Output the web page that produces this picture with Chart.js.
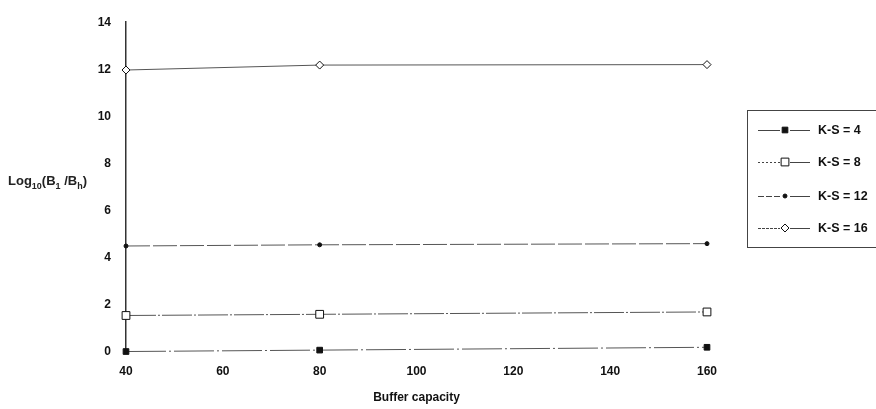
<!DOCTYPE html>
<html>
<head>
<meta charset="utf-8">
<script src="https://cdn.jsdelivr.net/npm/chart.js@4/dist/chart.umd.min.js"></script>
<style>
    html, body { margin: 0; padding: 0; background: #fff; }
    #wrap { position: relative; width: 876px; height: 409px; }
    #ytitle {
        position: absolute; left: 8px; top: 173px;
        font: bold 13px "Liberation Sans", Arial, sans-serif; color: #222;
        white-space: nowrap;
    }
    #ytitle sub { font-size: 9px; vertical-align: -4px; }
</style>
</head>
<body>
<div id="wrap">
    <canvas id="chart" width="876" height="409"></canvas>
    <div id="ytitle">Log<sub>10</sub>(B<sub>1</sub> /B<sub>h</sub>)</div>
</div>
<script>
const bufferCapacity = [40, 80, 160];
const seriesNames = ['K-S = 4', 'K-S = 8', 'K-S = 12', 'K-S = 16'];
const ks4 = [0.02, 0.08, 0.2];
const ks8 = [1.55, 1.6, 1.7];
const ks12 = [4.5, 4.55, 4.6];
const ks16 = [11.97, 12.18, 12.2];
const yTicks = [0, 2, 4, 6, 8, 10, 12, 14];
const xTicks = [40, 60, 80, 100, 120, 140, 160];

const FONT = '"Liberation Sans", Arial, sans-serif';

function pts(vals) {
    return vals.map((v, i) => ({ x: bufferCapacity[i], y: v }));
}

const styles = [
    { pointStyle: 'rect', radius: 4, bg: '#111', dash: [40, 3, 2, 3] },
    { pointStyle: 'rect', radius: 5.5, bg: '#fff', dash: [30, 2, 2, 2] },
    { pointStyle: 'circle', radius: 2, bg: '#111', dash: [24, 3] },
    { pointStyle: 'rectRot', radius: 4, bg: '#fff', dash: [] }
];

const allSeries = [ks4, ks8, ks12, ks16];

const datasets = allSeries.map((vals, i) => ({
    label: seriesNames[i],
    data: pts(vals),
    borderColor: '#555',
    borderWidth: 1,
    borderDash: styles[i].dash,
    pointStyle: styles[i].pointStyle,
    pointRadius: styles[i].radius,
    pointBackgroundColor: styles[i].bg,
    pointBorderColor: '#111',
    pointBorderWidth: 1,
    clip: false,
    tension: 0
}));

// legend drawn in a box on the right
const boxLegend = {
    id: 'boxLegend',
    afterDraw(chart) {
        const ctx = chart.ctx;
        ctx.save();
        ctx.strokeStyle = '#444';
        ctx.lineWidth = 1;
        ctx.strokeRect(747.5, 110.5, 140, 137);
        const rows = [130, 162, 196, 228];
        const legendDash = [[], [2, 2], [6, 2], [3, 1]];
        chart.data.datasets.forEach((ds, i) => {
            const y = rows[i];
            ctx.strokeStyle = '#444';
            ctx.setLineDash(legendDash[i]);
            ctx.beginPath();
            ctx.moveTo(758, y + 0.5);
            ctx.lineTo(780, y + 0.5);
            ctx.stroke();
            ctx.setLineDash([]);
            ctx.beginPath();
            ctx.moveTo(790, y + 0.5);
            ctx.lineTo(810, y + 0.5);
            ctx.stroke();
            ctx.fillStyle = ds.pointBackgroundColor;
            ctx.strokeStyle = ds.pointBorderColor;
            Chart.helpers.drawPoint(ctx, {
                pointStyle: ds.pointStyle, radius: ds.pointRadius, borderWidth: 1, rotation: 0
            }, 785, y);
            ctx.fillStyle = '#111';
            ctx.font = 'bold 12.5px ' + FONT;
            ctx.textBaseline = 'middle';
            ctx.textAlign = 'left';
            ctx.fillText(ds.label, 818, y + 1);
        });
        ctx.restore();
    }
};

new Chart(document.getElementById('chart'), {
    type: 'line',
    data: { datasets: datasets },
    plugins: [boxLegend],
    options: {
        responsive: false,
        animation: false,
        layout: { padding: { top: 12, right: 169, left: 0, bottom: 0 } },
        plugins: { legend: { display: false }, tooltip: { enabled: false } },
        scales: {
            x: {
                type: 'linear',
                min: 40, max: 160,
                afterBuildTicks: s => { s.ticks = xTicks.map(v => ({ value: v })); },
                afterFit: s => { s.height = 57; },
                grid: { display: false, drawTicks: false },
                border: { display: false },
                ticks: { padding: 12, color: '#111', font: { family: FONT, size: 12, weight: 'bold' }, maxRotation: 0 },
                title: { display: true, text: 'Buffer capacity', color: '#111', padding: { top: 8 }, font: { family: FONT, size: 12, weight: 'bold' } }
            },
            y: {
                min: 0, max: 14,
                afterBuildTicks: s => { s.ticks = yTicks.map(v => ({ value: v })); },
                afterFit: s => { s.width = 126; },
                grid: { display: false, drawTicks: false },
                border: { display: true, color: '#333', width: 1.5 },
                ticks: { padding: 15, color: '#111', font: { family: FONT, size: 12, weight: 'bold' } }
            }
        }
    }
});
</script>
</body>
</html>
